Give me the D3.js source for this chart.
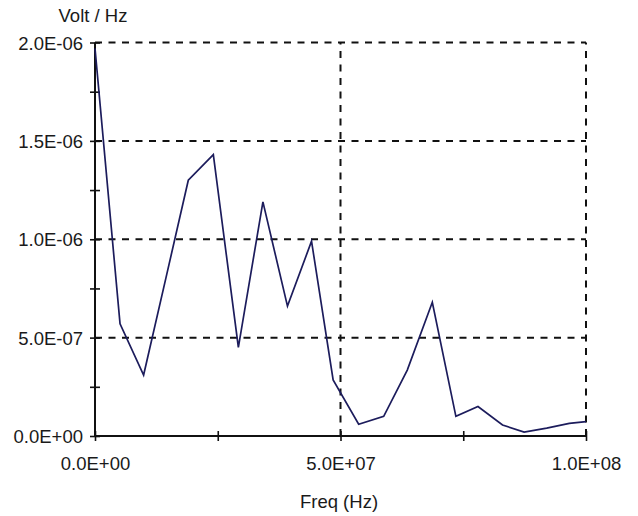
<!DOCTYPE html>
<html>
<head>
<meta charset="utf-8">
<script src="https://cdn.jsdelivr.net/npm/d3@7"></script>
<style>
  html, body { margin: 0; padding: 0; background: #fff; }
  svg { display: block; }
  text { font-family: "Liberation Sans", Arial, sans-serif; fill: #1a1a1a; }
</style>
</head>
<body>
<svg id="chart" width="638" height="516"></svg>
<script>
// ---- data ----
const freqHz = [0, 5.1e6, 9.9e6, 14.6e6, 19.0e6, 24.1e6, 29.2e6, 34.2e6, 39.2e6, 44.1e6,
                48.5e6, 53.7e6, 58.8e6, 63.6e6, 68.7e6, 73.5e6, 78.0e6, 83.0e6, 87.4e6,
                92.0e6, 96.6e6, 100e6];
const voltPerHz = [1.97e-6, 0.57e-6, 0.31e-6, 0.82e-6, 1.30e-6, 1.43e-6, 0.45e-6, 1.19e-6,
                   0.66e-6, 0.99e-6, 0.285e-6, 0.06e-6, 0.10e-6, 0.335e-6, 0.68e-6, 0.10e-6,
                   0.15e-6, 0.056e-6, 0.02e-6, 0.04e-6, 0.064e-6, 0.073e-6];

const xTickValues = [0, 2.5e7, 5e7, 7.5e7, 1e8];
const xTickLabels = ["0.0E+00", "", "5.0E+07", "", "1.0E+08"];
const yTickValues = [0, 0.25e-6, 0.5e-6, 0.75e-6, 1.0e-6, 1.25e-6, 1.5e-6, 1.75e-6, 2.0e-6];
const yTickLabels = ["0.0E+00", "", "5.0E-07", "", "1.0E-06", "", "1.5E-06", "", "2.0E-06"];
const xGridValues = [5e7, 1e8];
const yGridValues = [0.5e-6, 1.0e-6, 1.5e-6, 2.0e-6];

const xTitle = "Freq (Hz)";
const yTitle = "Volt / Hz";

// ---- layout ----
const plotLeft = 95, plotRight = 586, plotTop = 42.5, plotBottom = 436;
const svg = d3.select("#chart");

const x = d3.scaleLinear().domain([0, 1e8]).range([plotLeft, plotRight]);
const y = d3.scaleLinear().domain([0, 2e-6]).range([plotBottom, plotTop]);

const fontSize = 18.5;

// grid
const grid = svg.append("g").attr("stroke", "#111").attr("stroke-width", 2)
  .attr("stroke-dasharray", "7,6.5").attr("fill", "none");
grid.selectAll("line.h").data(yGridValues).join("line").attr("class", "h")
  .attr("x1", x(0)).attr("x2", x(1e8))
  .attr("y1", d => y(d)).attr("y2", d => y(d));
grid.selectAll("line.v").data(xGridValues).join("line").attr("class", "v")
  .attr("y1", y(0)).attr("y2", y(2e-6))
  .attr("x1", d => x(d)).attr("x2", d => x(d));

// axes
const yAxis = d3.axisLeft(y).tickValues(yTickValues).tickSize(5).tickPadding(7)
  .tickFormat((d, i) => yTickLabels[i]);
const gy = svg.append("g").attr("transform", `translate(${plotLeft},0)`).call(yAxis);
gy.select(".domain").attr("d", `M0,${y(0)}V${y(2e-6)}`).attr("stroke", "#111").attr("stroke-width", 2);
gy.selectAll(".tick line").attr("x1", 5).attr("stroke", "#111").attr("stroke-width", 1.6);
gy.selectAll(".tick text").attr("font-size", fontSize).attr("fill", "#1a1a1a")
  .attr("font-family", "Liberation Sans, Arial, sans-serif").attr("x", -12).attr("dy", "0.36em");

const xAxis = d3.axisBottom(x).tickValues(xTickValues).tickSize(5).tickPadding(7)
  .tickFormat((d, i) => xTickLabels[i]);
const gx = svg.append("g").attr("transform", `translate(0,${plotBottom})`).call(xAxis);
gx.select(".domain").attr("d", `M${x(0)},0H${x(1e8)}`).attr("stroke", "#111").attr("stroke-width", 2);
gx.selectAll(".tick line").attr("y1", -5).attr("stroke", "#111").attr("stroke-width", 1.6);
gx.selectAll(".tick text").attr("font-size", fontSize).attr("fill", "#1a1a1a")
  .attr("font-family", "Liberation Sans, Arial, sans-serif").attr("y", 34).attr("dy", 0);

// line
const line = d3.line().x((d, i) => x(freqHz[i])).y(d => y(d));
svg.append("path").datum(voltPerHz).attr("fill", "none")
  .attr("stroke", "#1c1c5c").attr("stroke-width", 1.7).attr("stroke-linejoin", "miter")
  .attr("d", line);

// titles
svg.append("text").attr("x", 93).attr("y", 22).attr("text-anchor", "middle")
  .attr("font-size", fontSize).text(yTitle);
svg.append("text").attr("x", 339).attr("y", 508).attr("text-anchor", "middle")
  .attr("font-size", fontSize).text(xTitle);
</script>
</body>
</html>
